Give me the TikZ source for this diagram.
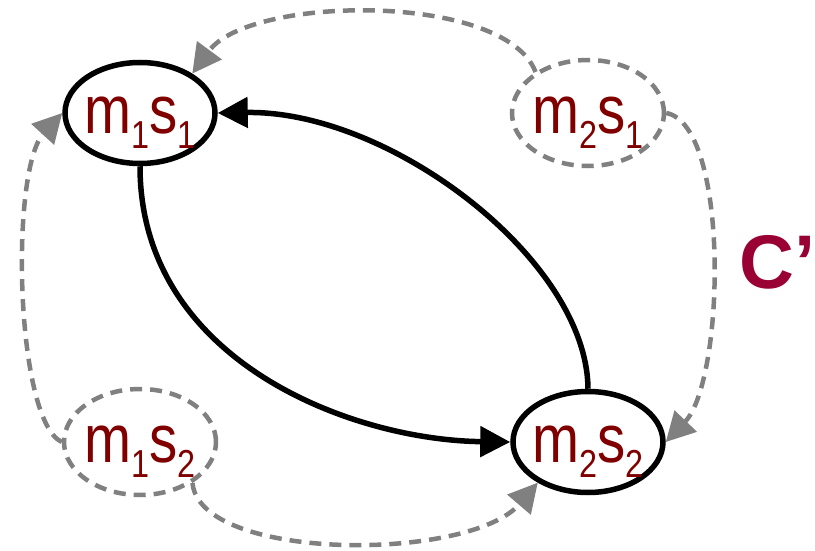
\documentclass[tikz,border=0pt]{standalone}
\usepackage{fontspec}
\setmainfont{Liberation Sans}
\newfontfamily\labfont[FakeStretch=0.83]{Liberation Sans}
\usetikzlibrary{arrows.meta,shapes.geometric}
\definecolor{lblred}{RGB}{128,0,0}
\definecolor{cred}{RGB}{153,0,51}
\definecolor{dgray}{RGB}{128,128,128}
\newcommand{\msub}[2]{m\raisebox{-15pt}{\fontsize{39pt}{39pt}\selectfont #1}s\raisebox{-15pt}{\fontsize{39pt}{39pt}\selectfont #2}}
\begin{document}
\begin{tikzpicture}[x=1pt,y=-1pt,
  solidstate/.style={ellipse,draw=black,line width=5.5pt,minimum width=150pt,minimum height=101pt,inner sep=0pt},
  ghoststate/.style={ellipse,draw=dgray,line width=4.5pt,dash pattern=on 12pt off 8pt,minimum width=152pt,minimum height=106pt,inner sep=0pt},
  statetext/.style={anchor=base,text=lblred,inner sep=0pt,font=\labfont\fontsize{68pt}{68pt}\selectfont},
  mainedge/.style={draw=black,line width=5.5pt,-{Triangle[length=30pt,width=30pt]}},
  ghostedge/.style={draw=dgray,line width=4.5pt,dash pattern=on 12pt off 8pt,-{Triangle[length=29pt,width=30pt]}}]
\useasboundingbox (0,0) rectangle (815,551);
% states
\node[solidstate] (a) at (140,113) {};
\node[ghoststate] (b) at (588,113) {};
\node[ghoststate] (c) at (140,442) {};
\node[solidstate] (d) at (588,442) {};
\node[statetext] (at) at (140,133) {\msub{1}{1}};
\node[statetext] (bt) at (588,133) {\msub{2}{1}};
\node[statetext] (ct) at (140,462) {\msub{1}{2}};
\node[statetext] (dt) at (588,462) {\msub{2}{2}};
% main transitions
\draw[mainedge] (a.south) .. controls (140,360) and (350,440) .. (d.west);
\draw[mainedge] (d.north) .. controls (587,260) and (390,110) .. (a.east);
% ghost transitions
\draw[ghostedge] (b.142) .. controls (505,-8) and (250,-5) .. (a.37);
\draw[ghostedge] (b.east) .. controls (730,125) and (725,380) .. (d.east);
\draw[ghostedge] (c.west) .. controls (15,420) and (10,170) .. (a.west);
\draw[ghostedge] (c.-38) .. controls (200,562) and (470,562) .. (d.219);
% label
\node[anchor=base west,inner sep=0pt,text=cred,font=\bfseries\fontsize{76pt}{76pt}\selectfont] (cp) at (739,288) {C’};
\end{tikzpicture}
\end{document}
